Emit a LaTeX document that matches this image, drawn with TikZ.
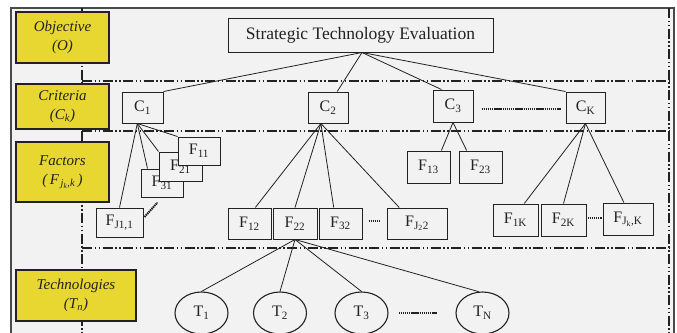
\documentclass[tikz,border=0pt]{standalone}
\usepackage{fontspec}
\setmainfont{Liberation Serif}
\usetikzlibrary{calc,shapes.geometric}
\definecolor{bg}{HTML}{F2F2F2}
\definecolor{ylw}{HTML}{E7D730}
\definecolor{frm}{HTML}{4A4A4A}
\definecolor{ink}{HTML}{222222}
\begin{document}
\begin{tikzpicture}[x=1pt,y=-1pt,
 band/.style={line width=1.5pt, dash pattern=on 10pt off 2.5pt on 1.5pt off 2.5pt on 1.5pt off 2.5pt, draw=ink},
 lvl/.style={draw=ink, line width=1.2pt, fill=ylw, inner sep=0pt, align=center, font=\fontsize{15}{19}\selectfont\itshape, text=ink},
 box/.style={draw=ink, line width=1pt, fill=bg, inner sep=0pt, font=\fontsize{16}{18}\selectfont, text=ink},
 tech/.style={draw=ink, line width=1.1pt, fill=bg, ellipse, inner sep=0pt, minimum width=53pt, minimum height=42pt, font=\fontsize{16}{18}\selectfont, text=ink},
 conn/.style={draw=ink, line width=0.8pt},
 dots/.style={draw=ink, line width=2pt, dash pattern=on 1.4pt off 0.7pt}
]
\useasboundingbox (0,0) rectangle (677,332);
\clip (0,0) rectangle (677,332);
\fill[white] (0,0) rectangle (677,332);
\fill[bg] (11,8) rectangle (674,340);
\draw[frm, line width=1.3pt] (11,340) -- (11,8) -- (674,8) -- (674,340);
% bands
\draw[band] (82,81) -- (669,81);
\draw[band] (82,131) -- (669,131);
\draw[band] (82,248) -- (669,248);
\draw[band] (82,8) -- (82,340);
\draw[band] (669,8) -- (669,340);
% level labels
\node[lvl, minimum width=93pt, minimum height=51pt] (lO) at (62.5,37.5) {Objective\\(O)};
\node[lvl, minimum width=93pt, minimum height=45pt] (lC) at (62.5,106.5) {Criteria\\(C\textsubscript{k})};
\node[lvl, minimum width=93pt, minimum height=60pt] (lF) at (62.5,172) {Factors\\(\,F\textsubscript{\,j\textsubscript{k},k}\,)};
\node[lvl, minimum width=120pt, minimum height=51pt] (lT) at (76,295.5) {Technologies\\(T\textsubscript{n})};
% objective
\node[box, minimum width=265pt, minimum height=34pt, font=\fontsize{17.5}{20}\selectfont] (top) at (360.5,35) {Strategic Technology Evaluation};
% criteria
\node[box, minimum width=41pt, minimum height=31pt] (C1) at (142.5,107.5) {C\textsubscript{1}};
\node[box, minimum width=40pt, minimum height=31pt] (C2) at (328,107.5) {C\textsubscript{2}};
\node[box, minimum width=40pt, minimum height=32pt] (C3) at (453,106) {C\textsubscript{3}};
\node[box, minimum width=39pt, minimum height=31pt] (CK) at (585.5,107.5) {C\textsubscript{K}};
% factors
\node[box, minimum width=42pt, minimum height=28pt] (F31) at (162,183) {F\textsubscript{31}};
\node[box, minimum width=43pt, minimum height=29pt] (F21) at (180.5,166.5) {F\textsubscript{21}};
\node[box, minimum width=42pt, minimum height=28pt] (F11) at (199,151) {F\textsubscript{11}};
\node[box, minimum width=47pt, minimum height=29pt] (FJ1) at (119.5,222.5) {F\textsubscript{J1,1}};
\node[box, minimum width=43pt, minimum height=31pt] (F12) at (249.5,223.5) {F\textsubscript{12}};
\node[box, minimum width=44pt, minimum height=31pt] (F22) at (295,223.5) {F\textsubscript{22}};
\node[box, minimum width=43pt, minimum height=31pt] (F32) at (340.5,223.5) {F\textsubscript{32}};
\node[box, minimum width=60pt, minimum height=31pt] (FJ2) at (417,223.5) {F\textsubscript{J\textsubscript{2}2}};
\node[box, minimum width=43pt, minimum height=32pt] (F13) at (428.5,167) {F\textsubscript{13}};
\node[box, minimum width=43pt, minimum height=32pt] (F23) at (480.5,167) {F\textsubscript{23}};
\node[box, minimum width=45pt, minimum height=32pt] (F1K) at (515.5,220) {F\textsubscript{1K}};
\node[box, minimum width=45pt, minimum height=32pt] (F2K) at (563.5,220) {F\textsubscript{2K}};
\node[box, minimum width=50pt, minimum height=32pt] (FJK) at (628,219) {F\textsubscript{J\textsubscript{k},K}};
% technologies
\node[tech] (T1) at (201.5,313) {T\textsubscript{1}};
\node[tech] (T2) at (280,313) {T\textsubscript{2}};
\node[tech] (T3) at (361.5,313) {T\textsubscript{3}};
\node[tech] (TN) at (482.5,313) {T\textsubscript{N}};
% connectors
\draw[conn] ([xshift=1.5pt]top.south) -- (C1.north east);
\draw[conn] ([xshift=1.5pt]top.south) -- (C2.60);
\draw[conn] ([xshift=1.5pt]top.south) -- (C3.125);
\draw[conn] ([xshift=1.5pt]top.south) -- (CK.north west);
\draw[conn] (C1.-108) -- (F11.north west);
\draw[conn] (C1.-108) -- (F21.north west);
\draw[conn] (C1.-108) -- (F31.135);
\draw[conn] (C1.-108) -- (FJ1.north);
\draw[conn] (C2.-114) -- (F12.70);
\draw[conn] (C2.-114) -- (F22.north);
\draw[conn] (C2.-114) -- (F32.113);
\draw[conn] (C2.-114) -- (FJ2.138);
\draw[conn] (C3.south) -- (F13.52);
\draw[conn] (C3.south) -- (F23.130);
\draw[conn] (CK.south) -- (F1K.62);
\draw[conn] (CK.south) -- (F2K.north);
\draw[conn] (CK.south) -- (FJK.104);
\draw[conn] (F22.south) -- (T1.north);
\draw[conn] (F22.south) -- (T2.north);
\draw[conn] (F22.south) -- (T3.north);
\draw[conn] (F22.south) -- (TN.100);
% dotted ellipses
\draw[dots] ([xshift=8pt,yshift=-3pt]C3.east) -- ([xshift=-5pt,yshift=-1.5pt]CK.west);
\draw[dots] ([xshift=6pt,yshift=2.5pt]F32.east) -- ([xshift=-6pt,yshift=2.5pt]FJ2.west);
\draw[dots] ([xshift=1pt,yshift=2pt]F2K.east) -- ([xshift=-1pt,yshift=1pt]FJK.west);
\draw[dots] ([xshift=10pt]T3.east) -- ([xshift=-18pt]TN.west);
\draw[dots] ([shift={(1,-5.5)}]FJ1.east) -- ([shift={(17,5)}]F31.south west);
\end{tikzpicture}
\end{document}
